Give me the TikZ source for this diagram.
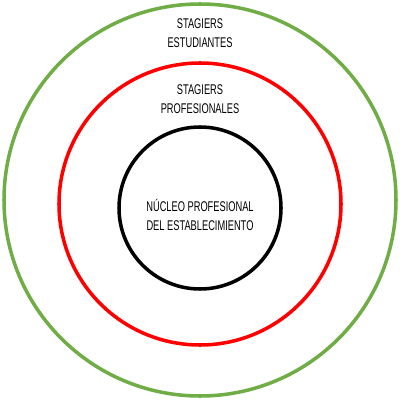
\documentclass[tikz,border=0pt]{standalone}
\usepackage{fontspec}
\usepackage{tikz}
\usetikzlibrary{positioning}
\newfontfamily\ringfont[FakeStretch=0.66]{Liberation Sans}
\definecolor{ringgreen}{RGB}{112,173,71}
\definecolor{ringred}{RGB}{255,0,0}

\begin{document}
\begin{tikzpicture}[x=0.025cm, y=-0.025cm,
            ringline/.style={line width=2.5pt},
            ringtext/.style={align=center, inner sep=0pt, font=\ringfont\fontsize{10}{13.5}\selectfont}
        ]
            \useasboundingbox (0,0) rectangle (400,400);
            \coordinate (cg) at (200,200);
            \coordinate (cr) at (200,204);
            \coordinate (cb) at (200,208);
            \draw[ringline, ringgreen] (cg) circle (196);
            \draw[ringline, ringred] (cr) circle (141);
            \draw[ringline, black] (cb) circle (81);
            \node[ringtext] (outer) at (200,33) {STAGIERS\\ESTUDIANTES};
            \node[ringtext] (middle) at (200,99) {STAGIERS\\PROFESIONALES};
            \node[ringtext] (core) at (200,215) {NÚCLEO PROFESIONAL\\DEL ESTABLECIMIENTO};
        \end{tikzpicture}
\end{document}
